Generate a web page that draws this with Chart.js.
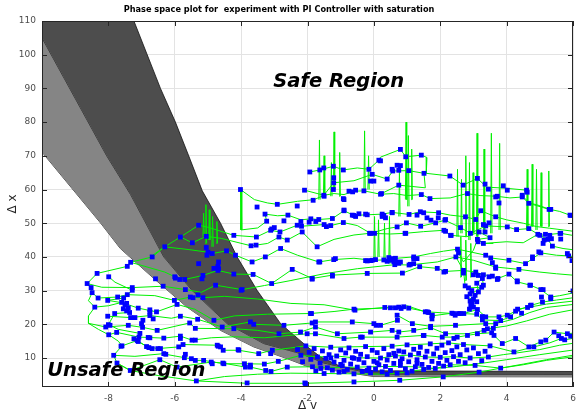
<!DOCTYPE html>
<html>
<head>
<meta charset="utf-8">
<script src="https://cdn.jsdelivr.net/npm/chart.js"></script>
<style>
  html, body { margin: 0; padding: 0; background: #fff; }
  #wrap { width: 577px; height: 413px; }
</style>
</head>
<body>
<div id="wrap"><canvas id="phaseChart"></canvas></div>
<script>
// axis setup
const xTicks = [-8, -6, -4, -2, 0, 2, 4, 6];
const yTicks = [10, 20, 30, 40, 50, 60, 70, 80, 90, 100, 110];
const xRange = [-10, 6];
const yRange = [1.4, 110];
const chartTitle = 'Phase space plot for  experiment with PI Controller with saturation';

// boundary curves of the shaded bands
const upperEdgeX = [-10, -7.23, -6.43, -5.98, -5.58, -5.17, -4.62, -4.12, -3.52, -2.81, -2.0, -1.6, -1.0, 0, 6];
const upperEdgeY = [179, 110, 90, 80, 70, 59.6, 50, 40, 30.1, 20.2, 13.3, 10.3, 7.5, 6.2, 6.0];
const middleEdgeX = [-10, -8.05, -7.33, -6.33, -5.48, -4.42, -3.32, -2.2, -1.5, 0, 6];
const middleEdgeY = [105, 70, 58.5, 40, 30.1, 20.2, 14.3, 11.3, 8.5, 5.2, 5.1];
const lowerEdgeX = [-10, -8.23, -7.64, -6.63, -5.63, -4.62, -3.62, -2.61, -2.0, 0, 6];
const lowerEdgeY = [71.1, 50, 42.5, 33.6, 25.1, 18.2, 13.3, 9.8, 7.5, 4.5, 4.4];

// green trajectory pieces [dv, dx]
const trackTop = [[-4.02,60],[-3.6,57],[-3.2,56],[-2.9,55.6],[-2.3,56.5],[-1.8,57],[-1.5,58.3],[-1.2,58.8],[-0.9,58.5],[-0.6,59.5],[-0.3,59.6],[0.2,58.6],[0.6,58.8],[1.0,58.2],[1.43,58.5],[1.7,57.3],[2.3,57.5],[2.8,58.8],[3.2,58.2],[3.7,58],[4.1,57.5],[4.5,57.8],[4.7,56],[5.0,55.2],[5.3,54.1],[5.6,53.5],[5.93,52.3],[6.1,51.5]];
const trackHigh = [[-4.02,60],[-4.0,48],[-3.5,48.6],[-3.23,50.6],[-3.28,52.7],[-2.9,52.2],[-2.59,52.4],[-2.2,51],[-1.9,51.3],[-1.66,51.1],[-1.25,51.4],[-0.9,53.7],[-0.6,52.3],[-0.2,52.5],[0.25,52.7],[0.55,53.2],[1.06,52.6],[1.4,53.4],[1.95,53.1],[2.3,52.4],[2.76,51.9],[3.07,51.1],[3.22,53.7],[3.67,51.9],[4.0,51.0],[4.5,50.0],[4.9,49.0],[5.3,48.5],[5.7,48.0],[6.1,47.5]];
const trackMidHigh = [[-5.28,49.4],[-5.0,48.8],[-4.22,46.4],[-3.54,45.9],[-3.11,47.9],[-2.83,47.4],[-2.31,49.4],[-2.18,49.1],[-1.5,49.6],[-1.43,49],[-0.92,50.2],[-0.5,49.3],[-0.1,47],[0.4,48.4],[0.7,48.9],[0.98,50.1],[1.41,49.1],[1.86,50.1],[2.14,50.9],[2.61,48.7],[2.91,47],[3.37,49.2],[4.02,48.9],[4.3,48.1],[4.67,48.4],[5.0,46.4],[5.63,47],[6.1,46.2]];
const trackMid = [[-5.83,45.9],[-5.47,44.2],[-5.05,46.1],[-4.6,45.5],[-3.7,43.3],[-3.2,44.0],[-2.86,45.9],[-2.61,45],[-2.16,47.4],[-1.71,43],[-1.2,45.2],[-0.6,46.5],[-0.13,47],[0.5,46.8],[0.94,47],[1.5,47.5],[2.11,47.9],[2.33,46.4],[2.8,46.0],[3.17,47.4],[3.5,45.7],[3.12,45.2],[3.3,44],[4.0,44.5],[4.5,44.2],[4.94,46.7],[5.24,45.2],[5.38,43.2],[5.7,42.5],[6.1,42]];
const trackLoopA = [[-1.93,65.2],[-1.63,65.8],[-1.22,66.9],[-0.92,65.8],[-0.5,66.4],[-0.15,66],[0.15,68.7],[0.2,69.6],[0.8,71.9],[0.96,69.7],[1.43,70.2],[1.6,69.5],[1.58,64.8],[2.29,64],[2.69,61.3],[3.12,63.3],[3.4,60.7],[3.95,60.4],[4.6,59.8],[4.47,57.8],[4.67,55.9],[5.28,54.1]];
const trackLoopB = [[-2.09,59.8],[-1.51,58.3],[-1.21,62],[-0.6,62.6],[-0.05,64.5],[0.4,63.1],[0.57,65.5],[1.05,65.6],[1.51,64.8],[1.55,60.5],[0.75,61.3],[0.23,58.8]];
const trackF = [[-6.73,40],[-6.31,43],[-5.6,42.2],[-5.0,41.4],[-4.87,41],[-4.44,41.8],[-4.17,40.5],[-3.67,38.5],[-3.27,40],[-2.81,42.5],[-2.3,40.5],[-1.66,38.5],[-1.21,39.2],[-0.6,39.6],[-0.05,39],[0.3,39.1],[0.55,39.5],[1.2,40],[1.7,41],[2.1,41.7],[2.52,42.3],[2.9,41.5],[3.37,40.5],[3.52,39.7],[4.07,39],[4.57,38],[4.78,39.5],[5.03,41.2],[5.5,40.5],[5.87,40.3],[6.1,40]];
const trackG = [[-7.33,38.4],[-6.9,37.2],[-6.3,35.5],[-6.0,34.1],[-5.7,33.3],[-5.15,34.5],[-4.7,36],[-4.22,34.9],[-3.64,34.8],[-3.08,32.1],[-2.46,36.3],[-1.86,33.6],[-1.25,34.6],[-0.2,35.1],[0.86,35.2],[1.38,37.1],[1.91,36.6],[2.16,35.7],[2.7,36],[3.07,35.5],[3.3,34.7],[3.57,34.3],[3.74,33.6],[4.07,34.9],[4.32,32.6],[4.72,31.6],[5.03,30.3],[5.33,28.1],[5.6,28.5],[6.1,29.5]];
const trackH = [[-8.64,32.1],[-8.2,31.0],[-7.28,30.9],[-6.35,31.3],[-5.68,30.3],[-5.2,29.5],[-4.77,31.6],[-3.97,30.3],[-3.3,31.5],[-2.5,33],[-1.5,35],[-0.5,36.5],[0.63,37.7],[1.06,37.6],[1.91,38.5],[2.47,40],[3.0,39],[3.67,37],[4.37,36.3],[5.0,35.5],[5.5,35],[6.1,34.5]];
const trackI = [[-8.49,29.4],[-8.31,27.8],[-7.72,28.1],[-7.43,28.8],[-6.6,28.5],[-6.01,27.1],[-5.53,28.1],[-5.15,27.9],[-4.5,28.3],[-3.5,27.5],[-2.5,26.2],[-1.5,25.8],[-0.57,24.2],[0.33,25],[0.75,25.1],[1.05,24.8],[1.61,23.7],[2.4,23.2],[2.71,23.2],[3.12,24.4],[3.37,22.2],[3.77,22.2],[4.02,22.7],[4.27,23.9],[4.72,25.6],[5.08,26.6],[5.5,27.2],[6.1,28]];
const trackJ = [[-8.41,25.1],[-8.0,25.5],[-7.6,26.5],[-7.1,24.8],[-6.55,23.7],[-5.93,25.9],[-5.4,24.5],[-4.82,21.2],[-4.2,22.5],[-3.2,23.0],[-1.91,23.2],[-1.2,23.8],[-0.6,24.5],[0.5,24.9],[1.0,25.5],[1.55,23.7],[1.75,22.5],[2.35,23.3],[2.6,23.2],[3.1,23],[3.27,21.3],[3.82,21.1],[4.12,22.2],[4.33,24.5],[4.63,25],[5.2,26],[6.1,27]];
const trackK = [[-8.02,22.4],[-7.33,22.0],[-6.75,22.6],[-6.1,21.8],[-5.83,22.4],[-5.31,21.5],[-4.57,19.2],[-3.72,20.7],[-3.62,20.0],[-2.71,19.7],[-1.86,20.4],[-1.76,20.7],[-0.65,20.7],[0.0,20.2],[0.2,19.7],[0.71,21.2],[0.7,22.7],[1.16,20.2],[1.71,19.4],[2.46,19.7],[3.37,20.2],[3.67,20.2],[4.2,21.5],[4.7,23.5],[5.2,25],[6.1,26]];
const trackL = [[-8.6,20.3],[-8.08,19.2],[-7.4,19.7],[-6.97,19.1],[-6.53,18.2],[-5.55,20.4],[-5.38,18.8],[-4.22,18.7],[-3.5,18.2],[-2.86,17.2],[-2.21,17.7],[-1.76,19.2],[-1.1,17.2],[-0.1,17.7],[0.55,18.2],[0.75,17.7],[1.2,18.2],[1.71,19],[2.16,17.2],[2.82,17.2],[3.32,18.2],[3.6,18.8],[3.42,18.7],[4.0,19.5],[4.6,21],[5.3,23],[6.1,24.5]];
const trackM = [[-7.99,16.9],[-7.75,17.6],[-7.08,16.2],[-6.8,16.1],[-6.33,15.9],[-5.83,16.5],[-5.48,15.3],[-4.9,16.0],[-4.2,16.3],[-3.3,16.0],[-2.01,17.2],[-1.76,17.2],[-0.9,15.8],[-0.4,16.2],[0.7,16.2],[1.49,16.7],[2.06,16.2],[2.51,16.2],[3.12,17.2],[3.55,17.5],[3.62,16.7],[3.87,14.3],[4.27,15.8],[4.67,13.3],[5.03,14.8],[5.18,15.3],[5.43,17.7],[5.83,17.2],[6.1,17.5]];
const trackN = [[-7.62,13.5],[-7.13,15.2],[-6.85,13.4],[-6.51,12.8],[-5.88,13.3],[-5.75,14.0],[-4.72,13.8],[-4.69,13.5],[-4.54,12.3],[-4.07,12.3],[-3.47,11.3],[-3.06,12.3],[-2.5,13.0],[-2.05,13.6],[-1.3,13.2],[-0.25,13.4],[0.55,13.5],[1.0,13.9],[1.7,14.2],[2.25,14.5],[2.7,14.0],[3.5,13.6],[4.22,11.8],[4.82,13.3],[5.3,14.5],[5.65,15.8],[5.75,15.4],[6.1,16]];
const trackO = [[-7.84,10.8],[-7.2,10.5],[-6.33,11.3],[-6.27,11.1],[-5.71,10.1],[-5.5,9.8],[-5.38,9.3],[-5.13,9.3],[-4.52,8.3],[-3.9,8.3],[-3.3,8.2],[-2.88,9.0],[-2.2,10.8],[-1.7,10.3],[-1.12,10.6],[-0.65,10.1],[0.2,10.0],[0.65,10.6],[1.1,10.9],[1.55,10.3],[2.0,10.2],[2.4,10.4],[2.9,10.0],[3.45,10.3],[3.9,11.0],[4.3,11.5],[5.0,12.5],[5.6,13.8],[6.1,14.5]];
const trackP = [[-7.74,8.5],[-7.34,6.3],[-6.45,9.5],[-5.93,7.3],[-4.9,8.8],[-4.55,8.5],[-3.87,7.3],[-3.72,7.3],[-3.26,6.3],[-3.1,6.0],[-2.61,7.3],[-1.85,7.4],[-1.4,7.1],[-0.5,7.3],[0.35,7.5],[1.25,7.4],[1.85,6.9],[2.3,8.0],[3.05,7.8],[3.82,7.0],[4.5,8.2],[5.2,9.5],[6.1,11]];
const trackQ = [[-5.35,3.2],[-4.5,4.5],[-3.5,5.2],[-2.5,5.5],[-1.5,5.4],[-0.6,5.3],[0.4,5.2],[0.7,5.5],[1.5,6.6],[2.5,7.5],[3.3,8.5],[4.0,9.5],[5.0,11.0],[6.1,12.5]];
const trackR = [[-7.34,6.3],[-6.5,4.8],[-5.35,3.2],[-3.82,2.5],[-2.07,2.5],[-0.6,2.9],[0.78,3.4],[2.09,4.4],[3.17,5.8],[3.82,7.0],[4.5,8.0],[5.2,9.3],[6.1,10.5]];
const trackS = [[-5.28,49.4],[-5.83,45.9],[-6.3,43],[-6.68,40],[-7.33,38.4],[-7.43,37.2],[-8.34,35.1],[-8.64,32.1],[-8.52,30.9],[-8.49,29.4],[-8.6,27],[-8.41,25.1],[-8.6,22.5],[-8.6,20.3],[-8.3,18.5],[-7.99,16.9],[-7.7,15],[-7.59,13.6],[-7.84,10.8],[-7.74,8.5],[-7.34,6.3]];
const trackT = [[-7.99,34.1],[-7.8,32.5],[-7.28,30.1],[-7.54,27.8],[-8.02,27.1],[-7.45,26.2],[-7.55,24.6],[-7.36,23.5],[-7.81,23.2],[-8.0,19.9],[-7.95,19.7],[-7.7,18.5],[-7.05,17.3],[-7.23,15.7],[-7.1,14.9],[-6.78,13.1],[-6.68,12.8]];
const trackKnot = [[3.6,44],[3.3,44],[3.12,45.2],[3.0,42],[2.7,38.5],[2.55,41.2],[2.47,40],[2.7,36],[2.75,31.4],[2.85,30.8],[3.25,31.0],[2.8,28.2],[3.1,26.7],[2.9,26.9],[3.0,25.1],[2.95,25.8],[3.15,29.6],[3.1,32.2],[3.27,33.6],[3.3,31.6],[3.0,27.5],[2.88,24.5],[2.92,25.6],[2.95,26.4]];

// short vertical bursts in the green trace: [dv, low dx, high dx]
const spikes = [[-5.15,46,53],[-5.08,44,55.5],[-4.98,45,54],[-4.88,43,52],[-4.75,44,50.5],[-4.02,48,60],
  [-1.66,57,74.7],[-1.52,58,70],[-1.3,58,68],[-1.22,60,77.1],[-1.05,58,71],[-0.3,59.6,77.4],[-0.18,60,70],
  [0.0,39,52],[0.12,40,51],[0.3,39,50],[0.45,38,52],[0.75,52,65.7],[0.95,57,80],[1.02,55,76],[1.12,57,72],
  [2.5,46,66],[2.62,47,63],[2.75,46,70],[2.86,45,68],[2.97,47,65],[3.09,46,76.7],[3.3,47,72],[3.52,47,76.7],[3.77,48,73.7],
  [2.6,34,46],[2.75,33,45],[2.9,34,44],[4.6,48,66],[4.75,49,67.5],[4.88,48,66],[5.02,49,65],[5.25,49,65.5]];

// blue sample markers [dv, dx]
const markersLeft = [[-5.28,49.4],[-5.83,45.9],[-5.47,44.2],[-6.3,43],[-6.68,40],[-5.28,38],[-7.33,38.4],[-7.43,37.2],[-8.34,35.1],[-7.99,34.1],[-6.0,34.1],[-5.7,33.3],[-6.58,33.5],[-6.35,31.3],[-8.64,32.1],[-8.52,30.9],[-7.28,30.9],[-7.28,30.1],[-8.49,29.4],[-5.68,30.3],[-7.43,28.8],[-7.72,28.1],[-7.54,27.8],[-5.53,28.1],[-8.31,27.8],[-8.02,27.1],[-6.01,27.1],[-5.93,25.9],[-7.6,26.5],[-7.5,25.8],[-7.45,26.2],[-7.4,24.9],[-7.55,24.6],[-7.45,24.0],[-7.1,24.8],[-6.75,24.3],[-6.75,23.6],[-6.55,23.7],[-8.41,25.1],[-7.36,23.5],[-7.81,23.2],[-8.02,22.4],[-7.33,22.0],[-7.2,22.0],[-6.75,22.6],[-6.65,21.6],[-5.83,22.4],[-5.31,21.5],[-6.96,21.2],[-8.0,19.9],[-7.95,19.7],[-8.08,19.2],[-7.4,19.7],[-7.0,20.2],[-6.97,19.1],[-5.55,20.4],[-5.38,18.8],[-6.53,18.2],[-7.75,17.6],[-7.99,16.9],[-7.05,17.3],[-7.08,16.2],[-6.8,16.1],[-6.75,16.0],[-6.33,15.9],[-5.83,16.5],[-7.23,15.7],[-7.13,15.2],[-7.1,14.9],[-5.38,15.3],[-7.59,13.6],[-5.75,14.0],[-5.88,13.3],[-6.85,13.4],[-6.78,13.1],[-6.68,12.8],[-6.51,12.8],[-6.33,11.3],[-6.27,11.1],[-5.68,11.1],[-5.5,9.8],[-7.84,10.8],[-7.74,8.5],[-6.45,9.5],[-5.93,7.3],[-7.34,6.3],[-5.35,3.2],
  [-5.83,15.8],[-5.48,15.3],[-4.69,13.5],[-4.54,12.3],[-4.09,12.5],[-3.47,11.3],[-3.11,11.3],[-3.06,12.3],[-2.88,9.0],[-3.9,8.3],[-3.72,7.3],[-4.52,8.3],[-4.87,8.3],[-5.38,9.3],[-5.71,10.1],[-6.43,12.8],[-7.62,13.5],[-3.82,2.6],[-2.08,2.6],[-2.61,7.3],[-3.26,6.3],[-3.1,6.0],
  [-4.82,21.2],[-3.72,20.7],[-3.62,20.0],[-2.71,19.7],[-4.22,18.7],[-4.57,19.2],[-2.86,17.2],[-4.72,13.8],[-4.62,13.3],[-4.07,12.3],[-5.13,9.3],[-4.9,8.8],[-4.55,8.5],[-3.87,7.3],[-3.72,7.9],[-3.3,8.2]];
const markersCluster = [[-2.3,12.5],[-2.2,10.8],[-2.15,8.9],[-2.05,13.6],[-1.95,11.7],[-1.9,9.6],[-1.85,7.4],[-1.8,12.8],[-1.75,6.2],[-1.7,10.3],[-1.62,8.5],[-1.55,12.1],[-1.5,5.4],[-1.45,9.9],[-1.4,7.1],[-1.35,11.0],[-1.3,13.2],[-1.25,6.4],[-1.2,8.8],[-1.12,10.6],[-1.05,5.8],[-1.0,12.4],[-0.95,7.7],[-0.9,9.3],[-0.85,11.5],[-0.8,6.6],[-0.75,13.0],[-0.7,8.2],[-0.65,10.1],[-0.6,5.3],[-0.55,12.0],[-0.5,7.3],[-0.45,9.6],[-0.4,11.1],[-0.35,6.0],[-0.3,8.6],[-0.25,13.4],[-0.2,10.4],[-0.15,7.0],[-0.1,5.6],[-0.05,12.3],[0.0,9.0],[0.05,6.7],[0.1,11.6],[0.15,8.0],[0.2,10.0],[0.25,5.9],[0.3,12.8],[0.35,7.5],[0.4,9.4],[0.45,11.0],[0.5,6.3],[0.55,13.5],[0.6,8.4],[0.65,10.6],[0.7,5.5],[0.75,12.1],[0.8,7.8],[0.85,9.8],[0.9,11.8],[0.95,6.8],[1.0,13.9],[1.05,8.9],[1.1,10.9],[1.15,6.1],[1.2,12.6],[1.25,7.4],[1.3,9.5],[1.35,11.4],[1.4,13.2],[1.45,8.1],[1.5,6.6],[1.55,10.3],[1.6,12.0],[1.65,7.2],[1.7,14.2],[1.75,9.0],[1.8,11.2],[1.85,6.9],[1.9,12.9],[1.95,8.4],[2.0,10.2],[2.05,13.8],[2.1,7.6],[2.15,11.6],[2.2,9.3],[2.25,14.5],[2.3,8.0],[2.35,12.2],[2.4,10.4],[2.5,13.3],[2.55,9.0],[2.6,11.0],[2.7,14.0],[2.75,8.6],[2.8,12.4],[2.9,10.0],[3.0,13.0],[3.05,7.8],[3.15,11.3],[3.25,9.2],[3.35,12.0],[3.45,10.3],[3.5,13.6],[-1.6,6.9],[-0.9,6.0],[-0.2,6.3],[0.4,5.2],[1.0,5.6],[-1.3,10.0],[-0.6,9.9],[0.1,8.6],[0.8,9.0],[1.3,8.4],[-1.0,8.1],[0.6,11.4],
  [-0.6,2.9],[0.78,3.4],[2.09,4.4],[3.17,5.8],[3.82,7.0],[-2.06,2.4],[4.22,11.8],[4.67,13.3],[4.82,13.3],[5.03,14.8],[5.18,15.3],[3.87,14.3],[4.27,15.8]];
const markersMiddle = [[-1.88,23.2],[-0.57,24.2],[0.33,25],[0.9,25.2],[1.05,24.8],[1.61,23.7],[1.76,22.7],[2.4,23.2],[2.55,23.2],[2.71,23.2],[2.88,24.5],[2.92,25.6],[2.95,26.4],[3.12,24.4],[3.37,22.2],[3.77,22.2],[4.02,22.7],[4.27,23.9],[4.45,23.3],[4.72,25.6],[5.08,26.6],[-1.76,20.7],[-0.65,20.7],[0.2,19.7],[0.71,21.2],[1.16,20.2],[1.71,19.4],[2.46,19.7],[3.37,20.2],[3.42,18.7],[3.67,20.2],[-2.01,17.2],[-1.1,17.2],[-0.35,16.2],[-0.1,17.7],[-0.9,15.8],[0.75,17.7],[1.49,16.7],[2.06,16.2],[2.41,15.8],[2.82,16.7],[3.12,17.2],[3.62,16.7],[5.43,17.7],[5.83,17.2],[5.93,16.5],
  [-1.91,23.2],[-1.86,20.4],[-1.76,19.2],[0.5,24.9],[0.65,24.9],[0.75,25.1],[0.82,24.7],[-0.6,24.5],[1.55,23.7],[1.65,23.5],[1.75,22.5],[1.75,21.6],[2.35,23.3],[2.45,22.7],[2.6,23.2],[3.1,23],[3.27,22.3],[3.27,21.3],[3.82,21.1],[4.12,22.2],[4.33,24.5],[4.63,25],[5.57,16.6],[5.65,15.8],[5.75,15.4],[0.0,20.2],[0.07,19.7],[0.7,22.7],[0.55,18.2],[1.2,18.2],[1.71,19],[2.16,17.2],[2.51,16.2],[3.32,18.2],[3.6,18.8],[3.55,17.5],[-2.21,17.7],[-1.76,17.2],[1.51,16.7],[-0.4,16.2],[0.7,16.2],
  [2.85,30.8],[2.95,30.0],[2.9,29.0],[3.05,28.6],[2.8,28.2],[3.0,27.5],[2.9,26.9],[3.1,26.7],[2.95,25.8],[3.0,25.1],[3.15,29.6],[3.25,31.0],[2.75,31.4],[3.1,32.2]];
const markersUpper = [[-4.02,60],[-3.52,54.8],[-2.91,55.6],[-3.28,52.7],[-3.23,50.6],[-3.11,47.9],[-3.0,48.7],[-2.83,47.4],[-2.59,52.4],[-2.71,50.7],[-2.31,55.1],[-2.09,59.8],[-1.83,56.8],[-1.9,51.3],[-1.66,51.1],[-1.51,58.3],[-1.22,60],[-0.9,57],[-0.9,53.9],[-1.21,62],[-1.21,63.5],[-1.93,65.2],[-1.63,65.8],[-1.51,66.4],[-1.22,66.9],[-0.92,65.8],[-0.15,66],[-0.05,64.5],[-0.1,62.5],[0.15,68.7],[0.8,71.9],[0.57,65.5],[0.7,67.2],[0.4,63.1],[0.23,58.8],[0.0,62.5],[-0.3,59.6],[-0.55,59.8],[-0.75,59.5],[-0.65,52.4],[-0.55,52.0],[-0.25,52.7],[0.25,52],[0.35,51.6],[-0.1,47],[0.7,48.9],[-0.05,39],[-0.2,38.8],[0.5,39],[0.6,38.6],[0.8,38.5],[-1.16,39.5],[-1.25,34.6],[-1.86,33.6],[-0.2,35.1],[-1.63,38.5],[-2.46,36.3],[-3.08,32.1],[-3.64,34.8],[-4.0,30.1],[-3.54,45.9],[-3.55,43.5],[-3.7,43.3],[-4.22,46.4],[-4.17,40.5],[-3.67,38.5],[-3.27,40],[-3.08,48.3],[-2.86,45.9],[-2.81,42.5],[-2.61,45],[-2.31,49.4],[-2.18,49.1],[-1.43,49],[-1.3,49.3],[-2.16,47.4],[-1.71,43],[-5.05,46.1],[-5.05,42.8],[-5.0,41.4],[-5.03,40.5],[-4.87,41],[-4.68,38.5],[-4.7,37.2],[-4.68,36.5],[-4.44,41.8],[-5.15,34.5],[-5.18,33.5],[-4.82,36.6],[-4.7,36],[-4.22,34.9],[-4.77,31.6],[-3.97,30.3],[-5.98,33.7],[-5.85,33.3],[-5.45,27.9],[-5.3,28.7],[-5.15,27.9],
  [-0.92,57.3],[-0.9,53.7],[-1.5,58],[0.2,58.6],[-0.64,59.3],[-2.2,50.5],[-1.95,50.3],[-1.75,50.5],[-1.5,49.6],[-1.25,51.4],[-0.92,50.2],[-0.6,52.3],[-0.45,52.8],[-0.2,52.5],[0.25,52.7],[0.55,53.2],[1.06,52.6],[1.3,52.4],[1.4,53.4],[1.5,53.1],[1.6,51.6],[1.72,50.9],[1.94,51.6],[1.95,53.1],[2.14,50.9],[1.86,50.1],[0.98,50.1],[0.94,47],[-0.13,47],[0.02,47],[2.16,47.6],[2.33,46.4],[2.61,48.7],[2.82,58.8],[3.22,53.7],[3.3,49.6],[3.47,50.1],[3.17,47.4],[3.12,45.2],[3.3,44],[3.72,58],[3.77,56],[4.67,55.9],[4.47,58.3],[4.62,59.2],[5.28,54.1],[5.91,52.4],[4.94,46.7],[5.17,46.7],[5.24,45.2],[5.1,44],[5.61,47],[5.63,45.3],[5.38,43.2],[5.03,41.2],[4.78,39.5],[5.83,41],[2.52,42.3],[2.47,40],[3.52,39.7],[4.07,39],[3.67,36.6],[4.37,36.3],[3.47,34.1],[3.72,33.3],[4.32,32.9],[4.7,31.6],[5.1,30.3],[5.05,28.1],[5.33,27.6],[4.74,25.7],[3.57,34.3],[3.27,33.6],[3.3,31.6],[3.07,35.5],[2.7,36],[1.91,36.6],[2.16,35.7],[0.86,35.2],[-1.25,34.3],[-1.86,33.4],[-1.21,39.2],[-0.25,38.9],[-0.1,38.9],[0.05,39.2],[0.3,39.1],[0.45,39.8],[0.55,39.5],[0.7,38.4],[0.75,38.1],[1.2,39.5],[1.3,39.5],[1.38,37.1],[1.1,37.8],[-1.66,38.5],
  [0.96,69.7],[1.43,70.2],[0.2,68.5],[0.55,66],[0.75,65.7],[0.8,67.1],[1.05,65.6],[1.51,64.8],[2.29,64],[0.75,61.3],[1.43,58.5],[1.69,57.3],[2.69,61.3],[3.12,63.3],[3.35,61.6],[3.45,60.1],[3.67,57.8],[3.9,61.1],[4.02,59.8],[4.6,59.8],[4.47,57.8],[5.33,54.1],[5.93,52.3],[0.3,52.3],[0.55,53.1],[2.16,51.1],[2.76,51.9],[3.07,51.1],[3.37,49.2],[3.67,51.9],[4.02,48.9],[4.3,48.1],[0.96,47],[1.41,49.1],[2.11,47.9],[2.31,46.4],[2.91,47],[3.35,47.4],[3.5,45.7],[3.14,44.5],[4.67,48.4],[5.0,46.4],[5.3,46.4],[5.35,45.4],[5.63,47],[5.13,45],[4.97,41.5],[4.78,40],[5.87,40.3],[5.97,38.9],[2.55,41.2],[3.37,40.5],[3.57,38.3],[4.57,38],[3.67,37],[0.4,38.7],[0.65,39.6],[1.2,40],[1.2,38],[0.63,37.7],[1.06,37.6],[2.11,35.5],[2.7,35.2],[3.0,34.7],[3.15,34.5],[3.3,34.7],[3.74,33.6],[4.07,34.9],[4.32,32.6],[4.72,31.6],[5.03,30.3],[5.33,28.1],[6.0,29.9]];

// region captions
const safeLabel = { text: 'Safe Region', x: -1.06, y: 91.9 };
const unsafeLabel = { text: 'Unsafe Region', x: -7.46, y: 6.05 };

const toXY = (xs, ys) => xs.map((x, i) => ({ x: x, y: ys[i] }));
const pairsToXY = (pairs) => pairs.map(p => ({ x: p[0], y: p[1] }));

const greenTracks = [trackTop, trackHigh, trackMidHigh, trackMid, trackLoopA, trackLoopB, trackF, trackG, trackH,
  trackI, trackJ, trackK, trackL, trackM, trackN, trackO, trackP, trackQ, trackR, trackS, trackT, trackKnot];

const spikePoints = [];
spikes.forEach(s => {
  spikePoints.push({ x: s[0], y: s[1] }, { x: s[0] + 0.02, y: s[2] }, { x: s[0] + 0.04, y: s[1] }, { x: s[0] + 0.04, y: null });
});

const greenStyle = { borderColor: '#00f000', borderWidth: 1, pointRadius: 0, fill: false, tension: 0 };

const datasets = [];
// markers first so they end up on top
datasets.push({
  data: pairsToXY([].concat(markersLeft, markersCluster, markersMiddle, markersUpper)),
  showLine: false, pointStyle: 'rect', pointRadius: 3.4, backgroundColor: '#0000ff', borderWidth: 0
});
datasets.push({ data: spikePoints, ...greenStyle, spanGaps: false });
greenTracks.forEach(t => datasets.push({ data: pairsToXY(t), ...greenStyle }));
// shaded bands
datasets.push({ data: toXY(upperEdgeX, upperEdgeY), borderColor: '#111', borderWidth: 0.8, pointRadius: 0, tension: 0,
  fill: '+1', backgroundColor: '#4d4d4d' });
datasets.push({ data: toXY(middleEdgeX, middleEdgeY), borderColor: '#111', borderWidth: 0.8, pointRadius: 0, tension: 0,
  fill: '+1', backgroundColor: '#858585' });
datasets.push({ data: toXY(lowerEdgeX, lowerEdgeY), borderColor: '#111', borderWidth: 0.8, pointRadius: 0, tension: 0,
  fill: false });

// box, inner tick marks, title and captions like the original figure
const framePlugin = {
  id: 'frame',
  afterDatasetsDraw(chart) {
    const { ctx, chartArea: a, scales: { x, y } } = chart;
    ctx.save();
    ctx.strokeStyle = '#262626';
    ctx.lineWidth = 1;
    ctx.strokeRect(a.left + 0.5, a.top + 0.5, a.right - a.left - 1, a.bottom - a.top - 1);
    ctx.beginPath();
    xTicks.forEach(v => {
      const p = Math.round(x.getPixelForValue(v)) + 0.5;
      ctx.moveTo(p, a.bottom); ctx.lineTo(p, a.bottom - 5);
      ctx.moveTo(p, a.top); ctx.lineTo(p, a.top + 5);
    });
    yTicks.forEach(v => {
      const p = Math.round(y.getPixelForValue(v)) + 0.5;
      ctx.moveTo(a.left, p); ctx.lineTo(a.left + 5, p);
      ctx.moveTo(a.right, p); ctx.lineTo(a.right - 5, p);
    });
    ctx.stroke();

    ctx.fillStyle = '#000';
    ctx.font = 'italic bold 19.5px "DejaVu Sans"';
    ctx.textAlign = 'center';
    ctx.textBaseline = 'middle';
    [safeLabel, unsafeLabel].forEach(l => {
      ctx.fillText(l.text, x.getPixelForValue(l.x), y.getPixelForValue(l.y));
    });

    ctx.font = 'bold 8.2px "DejaVu Sans"';
    ctx.fillText(chartTitle, 279, 10);
    ctx.restore();
  }
};

new Chart(document.getElementById('phaseChart'), {
  type: 'line',
  data: { datasets: datasets },
  options: {
    responsive: true,
    maintainAspectRatio: false,
    animation: false,
    devicePixelRatio: 1,
    layout: { padding: { left: 0, right: 0, top: 21, bottom: 0 } },
    plugins: {
      legend: { display: false },
      tooltip: { enabled: false },
      title: { display: false }
    },
    scales: {
      x: {
        type: 'linear',
        min: xRange[0], max: xRange[1],
        afterBuildTicks: s => { s.ticks = xTicks.map(v => ({ value: v })); },
        afterFit: s => { s.height = 26; s.paddingRight = 4; s.paddingLeft = 0; },
        grid: { color: '#e3e3e3', drawTicks: false },
        border: { display: false },
        ticks: { font: { family: '"DejaVu Sans"', size: 9 }, color: '#4d4d4d', padding: 6 },
        title: { display: true, text: 'Δ v', font: { family: '"DejaVu Sans"', size: 12 }, color: '#262626', padding: 0 }
      },
      y: {
        type: 'linear',
        min: yRange[0], max: yRange[1],
        afterBuildTicks: s => { s.ticks = yTicks.map(v => ({ value: v })); },
        afterFit: s => { s.width = 42; s.paddingTop = 0; s.paddingBottom = 0; },
        grid: { color: '#e3e3e3', drawTicks: false },
        border: { display: false },
        ticks: { font: { family: '"DejaVu Sans"', size: 9 }, color: '#4d4d4d', padding: 6 },
        title: { display: true, text: 'Δ x', font: { family: '"DejaVu Sans"', size: 12 }, color: '#262626', padding: 6 }
      }
    }
  },
  plugins: [framePlugin]
});
</script>
</body>
</html>
